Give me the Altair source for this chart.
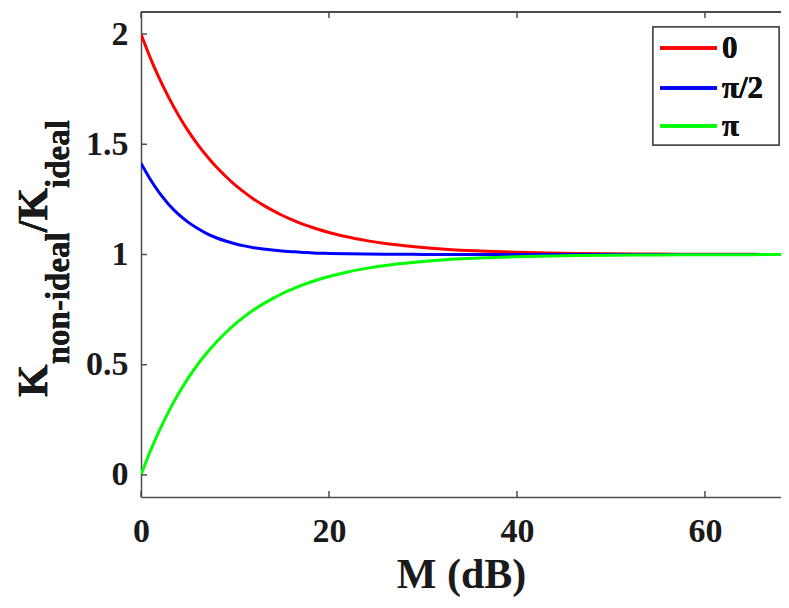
import altair as alt
import pandas as pd

M = [0, 1, 2, 3, 4, 5, 6, 7, 8, 9, 10, 11, 12, 13, 14, 15, 16, 17, 18, 19, 20,
     22, 24, 26, 28, 30, 33, 36, 40, 45, 50, 55, 60, 65, 70]
red = [2.000, 1.891, 1.794, 1.708, 1.631, 1.562, 1.501, 1.447, 1.398, 1.355, 1.316,
       1.282, 1.251, 1.224, 1.200, 1.178, 1.159, 1.141, 1.126, 1.112, 1.100,
       1.079, 1.063, 1.050, 1.040, 1.032, 1.022, 1.016, 1.010, 1.006, 1.003, 1.002,
       1.001, 1.0006, 1.0003]
blue = [1.414, 1.340, 1.277, 1.225, 1.182, 1.147, 1.119, 1.095, 1.076, 1.061, 1.049,
        1.039, 1.031, 1.025, 1.020, 1.016, 1.013, 1.010, 1.008, 1.006, 1.005,
        1.003, 1.002, 1.0013, 1.0008, 1.0005, 1.0003, 1.0001, 1.0, 1.0, 1.0, 1.0,
        1.0, 1.0, 1.0]
green = [0.000, 0.109, 0.206, 0.292, 0.369, 0.438, 0.499, 0.553, 0.602, 0.645, 0.684,
         0.718, 0.749, 0.776, 0.800, 0.822, 0.841, 0.859, 0.874, 0.888, 0.900,
         0.921, 0.937, 0.950, 0.960, 0.968, 0.978, 0.984, 0.990, 0.994, 0.997, 0.998,
         0.999, 0.9994, 0.9997]
series = ["0", "π/2", "π"]
colors = ["#ff0000", "#0000ff", "#00ff00"]
x_ticks = [0, 20, 40, 60]
y_ticks = [0, 0.5, 1, 1.5, 2]

W, H = 640, 485
XDOM = [0, 68.09]
YDOM = [-0.1, 2.1]
FONT = "Liberation Serif"
AX = "#4d4d4d"
TXT = "#1a1a1a"

rows = []
for i, (name, vals) in enumerate(zip(series, [red, blue, green])):
    for m, v in zip(M, vals):
        rows.append({"M": m, "K": v, "phase": name, "o": i})
df = pd.DataFrame(rows)

xs = alt.Scale(domain=XDOM, nice=False, zero=False)
ys = alt.Scale(domain=YDOM, nice=False, zero=False)
x_axis = alt.Axis(
    values=x_ticks, title="M (dB)", grid=False, ticks=False,
    labelFont=FONT, labelFontWeight="bold", labelFontSize=34, labelColor=TXT,
    labelPadding=17, labelFlush=False,
    titleFont=FONT, titleFontWeight="bold", titleFontSize=42, titleColor=TXT,
    titlePadding=6, domainColor=AX, domainWidth=1.5)
y_axis = alt.Axis(
    values=y_ticks, format="~g", title="", grid=False, ticks=False,
    labelFont=FONT, labelFontWeight="bold", labelFontSize=34, labelColor=TXT,
    labelPadding=13, labelFlush=False,
    domainColor=AX, domainWidth=1.5)

lines = alt.Chart(df).mark_line(strokeWidth=3, interpolate="monotone", clip=True).encode(
    x=alt.X("M:Q", scale=xs, axis=x_axis),
    y=alt.Y("K:Q", scale=ys, axis=y_axis),
    color=alt.Color("phase:N", sort=series,
                    scale=alt.Scale(domain=series, range=colors), legend=None),
    detail="o:O",
)

xt = pd.DataFrame({"M": x_ticks})
yt = pd.DataFrame({"K": y_ticks})
bot_ticks = alt.Chart(xt).mark_rule(color=AX, strokeWidth=1.5).encode(
    x=alt.X("M:Q", scale=xs, axis=x_axis), y=alt.value(H), y2=alt.value(H - 6))
top_ticks = alt.Chart(xt).mark_rule(color=AX, strokeWidth=1.5).encode(
    x=alt.X("M:Q", scale=xs, axis=x_axis), y=alt.value(0), y2=alt.value(6))
left_ticks = alt.Chart(yt).mark_rule(color=AX, strokeWidth=1.5).encode(
    y=alt.Y("K:Q", scale=ys, axis=y_axis), x=alt.value(0), x2=alt.value(6))
top_line = alt.Chart(xt).mark_rule(color=AX, strokeWidth=1.5).encode(
    x=alt.value(0), x2=alt.value(W), y=alt.value(0))

# y-axis title with subscripts
def piece(txt, size, bx, start):
    return alt.Chart(xt).mark_text(
        text=txt, font=FONT, fontWeight="bold", fontSize=size, angle=270,
        align="left", baseline="alphabetic", color=TXT
    ).encode(x=alt.value(bx), y=alt.value(start))

title_parts = [
    piece("K", 42, -94, 385),
    piece("non-ideal", 33, -72, 352.3),
    piece("/", 42, -94, 220.3),
    piece("K", 42, -94, 208.6),
    piece("ideal", 33, -72, 175.9),
]

# legend box
LX0, LX1, LY0, LY1 = 512, 638, 15, 133
row_y = [36, 76, 114]
leg_box = alt.Chart(xt).mark_rect(fill="white", stroke=AX, strokeWidth=1.5).encode(
    x=alt.value(LX0), x2=alt.value(LX1), y=alt.value(LY0), y2=alt.value(LY1))
leg_items = []
for name, col, ry in zip(series, colors, row_y):
    leg_items.append(alt.Chart(xt).mark_rule(color=col, strokeWidth=3).encode(
        x=alt.value(519), x2=alt.value(576), y=alt.value(ry)))
    leg_items.append(alt.Chart(xt).mark_text(
        text=name, font=FONT, fontWeight="bold", fontSize=31, color="#111",
        align="left", baseline="middle").encode(x=alt.value(581), y=alt.value(ry + 1)))

chart = alt.layer(lines, bot_ticks, top_ticks, left_ticks, top_line, *title_parts,
                  leg_box, *leg_items).properties(
    width=W, height=H,
    autosize=alt.AutoSizeParams(type="none"),
    padding={"left": 133, "top": 4, "right": 0, "bottom": 100},
).configure_view(stroke=None).configure(background="white")

chart.save("out.html", embed_options={"renderer": "svg", "actions": False})
